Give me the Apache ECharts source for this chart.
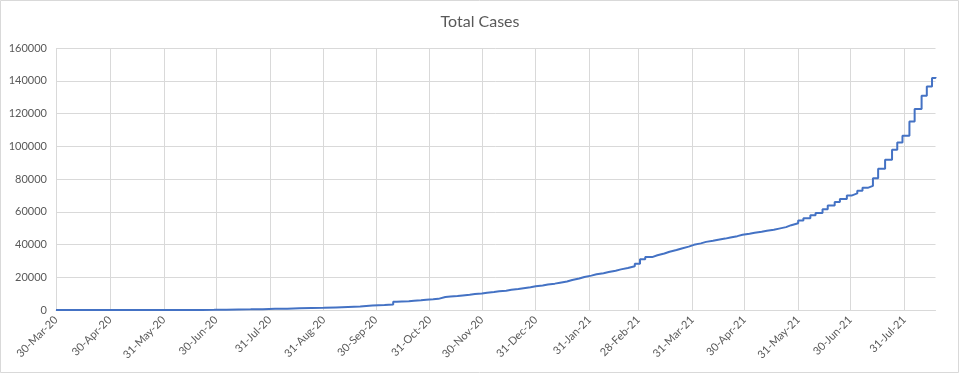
<!DOCTYPE html>
<html>
<head>
<meta charset="utf-8">
<script src="https://cdn.jsdelivr.net/npm/echarts@6/dist/echarts.min.js"></script>
<style>
html,body{margin:0;padding:0;background:#fff;}
#chart{width:960px;height:374px;}
</style>
</head>
<body>
<div id="chart"></div>
<script>
// ---- data ----
const startDate = '2020-03-30';
const endDate = '2021-08-18';
const tickDates = ['2020-03-30','2020-04-30','2020-05-31','2020-06-30','2020-07-31','2020-08-31','2020-09-30','2020-10-31','2020-11-30','2020-12-31','2021-01-31','2021-02-28','2021-03-31','2021-04-30','2021-05-31','2021-06-30','2021-07-31'];
const tickLabels = ['30-Mar-20','30-Apr-20','31-May-20','30-Jun-20','31-Jul-20','31-Aug-20','30-Sep-20','31-Oct-20','30-Nov-20','31-Dec-20','31-Jan-21','28-Feb-21','31-Mar-21','30-Apr-21','31-May-21','30-Jun-21','31-Jul-21'];
const reportDates = [
'2020-03-30','2020-04-06','2020-04-13','2020-04-20','2020-04-27','2020-05-04','2020-05-11','2020-05-18','2020-05-25',
'2020-06-01','2020-06-08','2020-06-15','2020-06-22','2020-06-29','2020-07-06','2020-07-13','2020-07-20','2020-07-27',
'2020-08-03','2020-08-10','2020-08-17','2020-08-24','2020-08-31','2020-09-07','2020-09-14','2020-09-21','2020-09-28',
'2020-10-05','2020-10-10','2020-10-12','2020-10-15','2020-10-19','2020-10-22','2020-10-26','2020-10-29',
'2020-11-02','2020-11-05','2020-11-09','2020-11-12','2020-11-16','2020-11-19','2020-11-23','2020-11-26','2020-11-30',
'2020-12-03','2020-12-07','2020-12-10','2020-12-14','2020-12-17','2020-12-21','2020-12-24','2020-12-28','2020-12-31',
'2021-01-04','2021-01-07','2021-01-11','2021-01-14','2021-01-18','2021-01-21','2021-01-25','2021-01-28',
'2021-02-01','2021-02-04','2021-02-08','2021-02-11','2021-02-15','2021-02-18','2021-02-22','2021-02-26',
'2021-03-01','2021-03-04','2021-03-08','2021-03-11','2021-03-15','2021-03-18','2021-03-22','2021-03-25','2021-03-29',
'2021-04-01','2021-04-05','2021-04-08','2021-04-12','2021-04-15','2021-04-19','2021-04-22','2021-04-26','2021-04-29',
'2021-05-03','2021-05-06','2021-05-10','2021-05-13','2021-05-17','2021-05-20','2021-05-24','2021-05-27','2021-05-31',
'2021-06-03','2021-06-07','2021-06-10','2021-06-14','2021-06-17','2021-06-21','2021-06-24','2021-06-28',
'2021-07-01','2021-07-04','2021-07-07','2021-07-10','2021-07-13','2021-07-16','2021-07-20','2021-07-24','2021-07-27','2021-07-30',
'2021-08-03','2021-08-06','2021-08-10','2021-08-13','2021-08-16','2021-08-18'
];
const totalCases = [
7,10,15,20,23,25,30,30,35,
40,50,60,90,180,300,400,520,700,
800,1000,1200,1300,1600,1900,2200,2700,3100,
3400,5000,5200,5400,5700,6000,6300,6500,
6800,7900,8200,8500,8900,9300,9700,10100,10600,
11000,11400,11800,12300,12800,13300,13900,14500,15000,
15600,16100,16700,17400,18300,19200,20200,21000,
21800,22500,23200,24000,24800,25700,26700,28300,
31000,32300,33400,34500,35600,36600,37600,38700,39800,
40700,41600,42300,42900,43600,44300,45100,45900,46600,
47200,47800,48400,49000,49700,50600,51800,53000,54600,
56000,57800,59300,61500,63800,66000,67800,70000,
71200,72900,74600,75800,80500,86200,91700,97800,102300,106400,
115100,122700,130800,136500,141700,142300
];
const yMin = 0, yMax = 160000, yStep = 20000;

// ---- helpers ----
function dayNum(s){
  const p = s.split('-').map(Number);
  const q = startDate.split('-').map(Number);
  return Math.round((Date.UTC(p[0],p[1]-1,p[2]) - Date.UTC(q[0],q[1]-1,q[2]))/86400000);
}
const tickDays = tickDates.map(dayNum);
const seriesData = reportDates.map((d,i)=>[dayNum(d), totalCases[i]]);

const chart = echarts.init(document.getElementById('chart'), null, {renderer:'canvas'});
const font = 'Lato, "Open Sans", sans-serif';
chart.setOption({
  animation:false,
  backgroundColor:'#ffffff',
  graphic:[{type:'rect', shape:{x:0.5,y:0.5,width:958,height:372}, style:{fill:'none', stroke:'#d9d9d9', lineWidth:1}, silent:true}],
  title:{text:'Total Cases', left:'center', top:9, textStyle:{fontFamily:font, fontSize:16, fontWeight:'normal', color:'#595959'}},
  grid:{left:56, right:24.5, top:48, bottom:64, containLabel:false},
  xAxis:{
    type:'value', min:0, max:dayNum(endDate),
    axisLine:{show:true, lineStyle:{color:'#d9d9d9', width:1}},
    axisTick:{show:false, customValues:tickDays},
    splitLine:{show:true, lineStyle:{color:'#d9d9d9', width:1}},
    axisLabel:{customValues:tickDays, rotate:45, margin:8, fontFamily:font, fontSize:11, color:'#595959',
      formatter:function(v){ const i = tickDays.indexOf(Math.round(v)); return i>=0 ? tickLabels[i] : ''; }}
  },
  yAxis:{
    type:'value', min:yMin, max:yMax, interval:yStep,
    axisLine:{show:false}, axisTick:{show:false},
    splitLine:{show:true, lineStyle:{color:'#d9d9d9', width:1}},
    axisLabel:{margin:9, fontFamily:font, fontSize:11, color:'#595959',
      formatter:function(v){ return String(v); }}
  },
  series:[{
    type:'line', data:seriesData, step:'end', showSymbol:false, symbol:'none',
    lineStyle:{color:'#4472C4', width:2}
  }]
});
</script>
</body>
</html>
